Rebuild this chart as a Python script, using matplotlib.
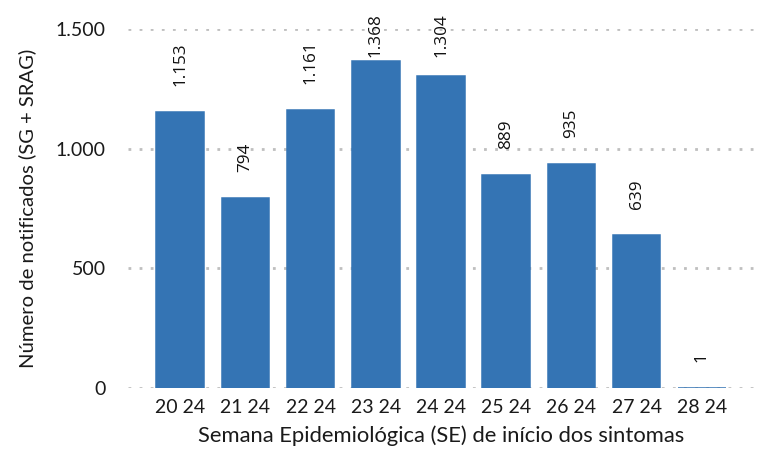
import matplotlib
matplotlib.use("Agg")
import matplotlib.pyplot as plt
from matplotlib.ticker import FuncFormatter

categories = ["20 24", "21 24", "22 24", "23 24", "24 24", "25 24", "26 24", "27 24", "28 24"]
values = [1153, 794, 1161, 1368, 1304, 889, 935, 639, 1]
yticks = [0, 500, 1000, 1500]

def fmt(v):
    return f"{int(v):,}".replace(",", ".")

fig = plt.figure(figsize=(7.64, 4.54), dpi=100)
ax = fig.add_axes([0.1675, 0.1454, 0.8195, 0.7906])

x = list(range(len(categories)))
bar_color = "#3474B4"
ax.bar(x, values, width=0.73, color=bar_color, edgecolor=bar_color, linewidth=1.1, zorder=3)

ax.set_xlim(-0.8, 8.8)
ax.set_ylim(0, 1500)

# label placement: outside end, clamped so label stays inside chart area
fig.canvas.draw()
px_per_unit = ax.transData.transform((0, 1))[1] - ax.transData.transform((0, 0))[1]
offset_units = 26 / px_per_unit
cap_units = 1383
for xi, v in zip(x, values):
    yb = min(v + offset_units, cap_units)
    ax.text(xi, yb, fmt(v), rotation=90, ha="center", va="bottom", fontsize=12.3,
            family="Open Sans", color="#111111", clip_on=False, zorder=4)

ax.set_yticks(yticks)
ax.yaxis.set_major_formatter(FuncFormatter(lambda v, p: fmt(v)))
ax.set_xticks(x)
ax.set_xticklabels(categories)

for s in ax.spines.values():
    s.set_visible(False)
ax.grid(axis="y", color="#BFBFBF", linestyle=(0, (1, 3)), linewidth=2, zorder=0)
ax.set_axisbelow(True)
ax.tick_params(axis="both", length=0, labelsize=14, labelcolor="#1a1a1a")
ax.tick_params(axis="y", pad=16)
ax.tick_params(axis="x", pad=8)
for lab in ax.get_xticklabels() + ax.get_yticklabels():
    lab.set_family("Lato")

ax.set_ylabel("Número de notificados (SG + SRAG)", fontsize=14.6, family="Lato", color="#1a1a1a", labelpad=14)
ax.set_xlabel("Semana Epidemiológica (SE) de início dos sintomas", fontsize=15.8, family="Lato", color="#1a1a1a", labelpad=7)

fig.savefig("out.png", dpi=100)
